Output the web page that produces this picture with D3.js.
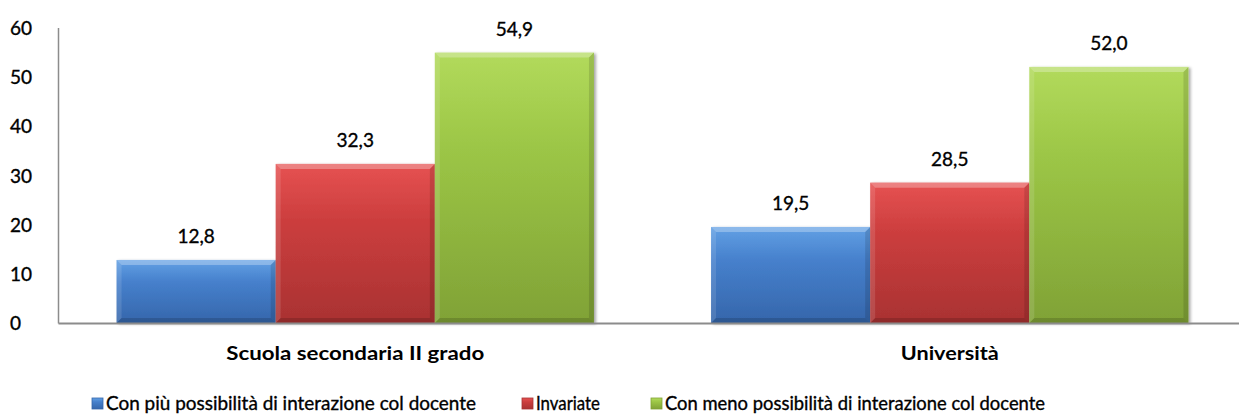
<!DOCTYPE html>
<html>
<head>
<meta charset="utf-8">
<script src="https://cdn.jsdelivr.net/npm/d3@7/dist/d3.min.js"></script>
<style>
  html, body { margin: 0; padding: 0; background: #fff; }
  svg { display: block; }
  text { font-family: Lato, "Open Sans", sans-serif; fill: #000; }
  text.reg { stroke: #000; stroke-width: 0.35px; }
</style>
</head>
<body>
<svg id="chart" width="1239" height="417"></svg>
<script>
// Data
const categories = ["Scuola secondaria II grado", "Università"];
const seriesNames = [
  "Con più possibilità di interazione col docente",
  "Invariate",
  "Con meno possibilità di interazione col docente"
];
const valuesPiu = [12.8, 19.5];
const valuesInvariate = [32.3, 28.5];
const valuesMeno = [54.9, 52.0];
const yTicks = [0, 10, 20, 30, 40, 50, 60];

const seriesValues = [valuesPiu, valuesInvariate, valuesMeno];
const seriesKeys = ["piu", "inv", "meno"];

// Palette: [top, middle, bottom] for the bevelled bar gradient
const palette = {
  piu:  ["#62a0e4", "#4680cc", "#3566ab"],
  inv:  ["#e65252", "#cc3e3e", "#a93232"],
  meno: ["#b2da5c", "#9cc646", "#80a236"]
};

const svg = d3.select("#chart");
const plotLeft = 58, plotRight = 1247, plotTop = 27.5, plotBase = 323;

const defs = svg.append("defs");
seriesKeys.forEach(k => {
  const g = defs.append("linearGradient")
    .attr("id", "grad-" + k).attr("x1", 0).attr("y1", 0).attr("x2", 0).attr("y2", 1);
  g.append("stop").attr("offset", "0%").attr("stop-color", palette[k][0]);
  g.append("stop").attr("offset", "35%").attr("stop-color", palette[k][1]);
  g.append("stop").attr("offset", "100%").attr("stop-color", palette[k][2]);
});
const shadow = defs.append("filter").attr("id", "shadow")
  .attr("x", "-5%").attr("y", "-5%").attr("width", "115%").attr("height", "115%");
shadow.append("feDropShadow").attr("dx", 2).attr("dy", 1).attr("stdDeviation", 1.5)
  .attr("flood-color", "#000").attr("flood-opacity", 0.35);

// Scales
const x0 = d3.scaleBand().domain(categories).range([plotLeft, plotRight]).padding(0);
const bw = x0.bandwidth();
const gapFrac = 0.0985;
const x1 = d3.scaleBand().domain(seriesKeys).range([bw * gapFrac, bw * (1 - gapFrac)]).padding(0);
const y = d3.scaleLinear().domain([0, 60]).range([plotBase, plotTop]);

// Y axis
const yAxis = svg.append("g").attr("transform", `translate(${plotLeft},0)`)
  .call(d3.axisLeft(y).tickValues(yTicks).tickSize(0).tickSizeOuter(0).tickFormat(d3.format("d")));
yAxis.select(".domain").attr("stroke", "#8c8c8c").attr("stroke-width", 1.5);
yAxis.selectAll(".tick text")
  .attr("class", "reg")
  .attr("x", -48).attr("dy", "0.36em").attr("y", 0)
  .attr("text-anchor", "start")
  .style("font-family", "Lato, 'Open Sans', sans-serif")
  .style("font-size", "19px").attr("fill", "#000");

// Bars
const groups = svg.append("g").selectAll("g.cat")
  .data(categories).join("g")
  .attr("class", "cat")
  .attr("transform", d => `translate(${x0(d)},0)`);

const bev = 5;
groups.each(function(cat, ci) {
  const g = d3.select(this);
  seriesKeys.forEach((k, si) => {
    const v = seriesValues[si][ci];
    const bx = x1(k), bwid = x1.bandwidth();
    const by = y(v), bh = plotBase - by;
    const bar = g.append("g");
    bar.append("rect")
      .attr("x", bx).attr("y", by).attr("width", bwid).attr("height", bh)
      .attr("fill", `url(#grad-${k})`).attr("filter", "url(#shadow)");
    // bevel edges
    const x2 = bx + bwid, y2 = plotBase;
    bar.append("polygon")
      .attr("points", [[bx, by], [x2, by], [x2 - bev, by + bev], [bx + bev, by + bev]].join(" "))
      .attr("fill", "#fff").attr("opacity", 0.28);
    bar.append("polygon")
      .attr("points", [[bx, by], [bx + bev, by + bev], [bx + bev, y2 - bev], [bx, y2]].join(" "))
      .attr("fill", "#fff").attr("opacity", 0.12);
    bar.append("polygon")
      .attr("points", [[x2, by], [x2, y2], [x2 - bev, y2 - bev], [x2 - bev, by + bev]].join(" "))
      .attr("fill", "#000").attr("opacity", 0.12);
    bar.append("polygon")
      .attr("points", [[bx, y2], [x2, y2], [x2 - bev, y2 - bev], [bx + bev, y2 - bev]].join(" "))
      .attr("fill", "#000").attr("opacity", 0.15);
    // value label
    g.append("text")
      .attr("class", "reg")
      .attr("x", bx + bwid / 2).attr("y", by - 17)
      .attr("text-anchor", "middle")
      .style("font-size", "19px")
      .text(d3.format(".1f")(v).replace(".", ","));
  });
});

// X axis (baseline + category labels)
const xAxis = svg.append("g").attr("transform", `translate(0,${plotBase})`)
  .call(d3.axisBottom(x0).tickSize(0).tickSizeOuter(0));
xAxis.select(".domain").attr("stroke", "#8c8c8c").attr("stroke-width", 2);
xAxis.selectAll(".tick text")
  .attr("y", 37).attr("dy", 0)
  .style("font-family", "Lato, 'Open Sans', sans-serif")
  .style("font-size", "18px").style("font-weight", "bold").attr("fill", "#000")
  .attr("textLength", (d, i) => [258, 98][i]).attr("lengthAdjust", "spacingAndGlyphs");

// Legend
const legendItems = [
  { key: "piu",  sq: 92,  tx: 106, len: 370 },
  { key: "inv",  sq: 522, tx: 536, len: 64 },
  { key: "meno", sq: 651, tx: 665, len: 380 }
];
const legend = svg.append("g");
legendItems.forEach((it, i) => {
  legend.append("rect")
    .attr("x", it.sq).attr("y", 398).attr("width", 11).attr("height", 11)
    .attr("fill", `url(#grad-${it.key})`)
    .attr("stroke", palette[it.key][2]).attr("stroke-width", 0.8);
  legend.append("text")
    .attr("class", "reg")
    .attr("x", it.tx).attr("y", 410)
    .style("font-size", "19px")
    .attr("textLength", it.len).attr("lengthAdjust", "spacingAndGlyphs")
    .text(seriesNames[i]);
});
</script>
</body>
</html>
